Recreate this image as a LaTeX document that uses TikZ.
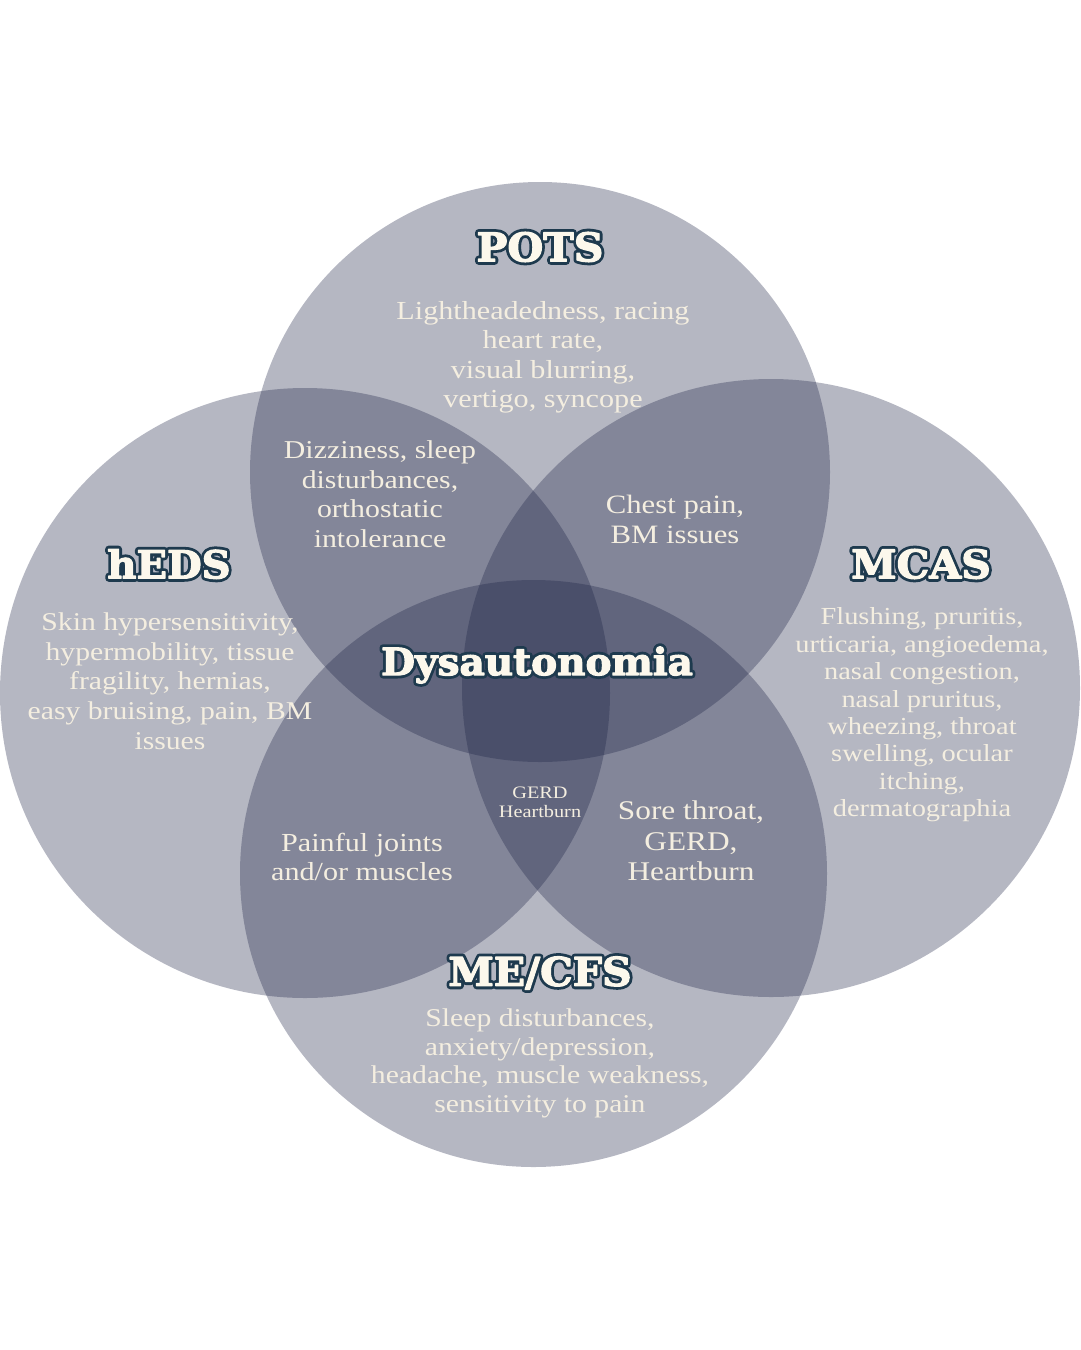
\documentclass[tikz,border=0pt]{standalone}
\usepackage{fontspec}
\setmainfont{Liberation Serif}
\newfontfamily\bodyfont{Liberation Serif}[FakeStretch=1.16]
\newfontfamily\titlefont{DejaVu Serif}[FakeStretch=1.04]
\definecolor{circ}{RGB}{27,33,68}
\definecolor{cream}{RGB}{252,248,236}
\definecolor{bodytxt}{RGB}{244,238,224}
\definecolor{outl}{RGB}{30,58,78}
\newcommand\strokeon{\special{pdf:literal direct 1 j 1 J 6.8 w 0.118 0.227 0.306 RG 1 Tr}}
\newcommand\fillon{\special{pdf:literal direct 1 j 1 J 1.2 w 0.988 0.973 0.925 RG 2 Tr}}
\newcommand\strokeoff{\special{pdf:literal direct 0 Tr}}
\tikzset{
  vcirc/.style={circle, fill=circ, fill opacity=0.32, draw=none, inner sep=0pt, outer sep=0pt},
  body/.style={text=bodytxt, align=center, inner sep=0pt, font=\bodyfont\fontsize{26}{29.5}\selectfont},
  ttl/.style={text=cream, inner sep=0pt},
}
\newcommand\outlinedtitle[4]{%
  \node[ttl, font=\titlefont\bfseries\fontsize{#3}{#3}\selectfont] at (#2) {\strokeon#4\strokeoff};
  \node[ttl, font=\titlefont\bfseries\fontsize{#3}{#3}\selectfont] (#1) at (#2) {\fillon#4\strokeoff};%
}
\begin{document}
\begin{tikzpicture}[x=1pt,y=-1pt]
\useasboundingbox (0,0) rectangle (1080,1350);
\fill[white] (0,0) rectangle (1080,1350);
% circles
\node[vcirc, minimum size=580pt] (pots) at (540,472) {};
\node[vcirc, minimum size=610pt] (heds) at (305,693) {};
\node[vcirc, minimum size=618pt] (mcas) at (771,688) {};
\node[vcirc, minimum size=587pt] (mecfs) at (533.5,873.5) {};
% titles
\outlinedtitle{potst}{540,247}{39.5}{POTS}
\outlinedtitle{hedst}{169,564}{38.5}{hEDS}
\outlinedtitle{mcast}{921,564}{39.5}{MCAS}
\outlinedtitle{mecfst}{540,973}{39.5}{ME/CFS}
\outlinedtitle{dyst}{537,665}{37.5}{Dysautonomia}
% bodies
\node[body] (potsb) at (543,357.5) {Lightheadedness, racing\\heart rate,\\visual blurring,\\vertigo, syncope};
\node[body, font=\bodyfont\fontsize{25.7}{29.5}\selectfont] (dizzb) at (380,494) {Dizziness, sleep\\disturbances,\\orthostatic\\intolerance};
\node[body, font=\bodyfont\fontsize{26.5}{30}\selectfont] (chestb) at (675,519) {Chest pain,\\BM issues};
\node[body, font=\bodyfont\fontsize{25.6}{29.7}\selectfont] (hedsb) at (170,681) {Skin hypersensitivity,\\hypermobility, tissue\\fragility, hernias,\\easy bruising, pain, BM\\issues};
\node[body, font=\bodyfont\fontsize{24.5}{27.4}\selectfont] (mcasb) at (922,715) {Flushing, pruritis,\\urticaria, angioedema,\\nasal congestion,\\nasal pruritus,\\wheezing, throat\\swelling, ocular\\itching,\\dermatographia};
\node[body, font=\bodyfont\fontsize{17.5}{19}\selectfont] (gerdb) at (540,802) {GERD\\Heartburn};
\node[body, font=\bodyfont\fontsize{27}{30.5}\selectfont] (soreb) at (691,841) {Sore throat,\\GERD,\\Heartburn};
\node[body] (painb) at (362,857) {Painful joints\\and/or muscles};
\node[body, font=\bodyfont\fontsize{25.6}{28.7}\selectfont] (mecfsb) at (540,1063.5) {Sleep disturbances,\\anxiety/depression,\\headache, muscle weakness,\\sensitivity to pain};
\end{tikzpicture}
\end{document}
